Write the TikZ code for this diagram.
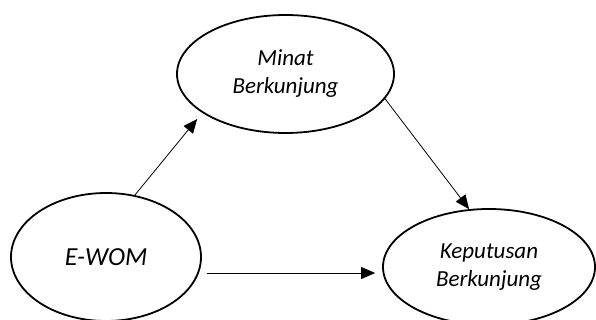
\documentclass[tikz,border=0pt]{standalone}
\usepackage{fontspec}
\setmainfont{Carlito}
\usetikzlibrary{shapes.geometric,arrows.meta}

\tikzstyle{vertex} = [ellipse,draw,line width=1.8pt,inner sep=0pt,align=center,font=\itshape\fontsize{23}{28}\selectfont]
\tikzstyle{edge} = [-{Triangle[length=14pt,width=12pt]},line width=.8pt]

\begin{document}
\begin{tikzpicture}[x=1pt,y=-1pt]
\useasboundingbox (0,0) rectangle (596,320);

% vertices
\node[vertex,minimum width=217pt,minimum height=118pt] (minat) at (285.5,74) {Minat\\Berkunjung};
\node[vertex,minimum width=190pt,minimum height=128pt,font=\itshape\fontsize{26}{30}\selectfont] (ewom) at (106,257) {E-WOM};
\node[vertex,minimum width=212pt,minimum height=116pt] (kep) at (489,267) {Keputusan\\Berkunjung};

% edges
\draw[edge,shorten >=8pt] (ewom.65) -- (minat.205);
\draw[edge] (minat.346) -- (kep.109);
\draw[edge] ([shift={(5pt,-16pt)}]ewom.east) -- ([shift={(-7pt,-6pt)}]kep.west);

\end{tikzpicture}
\end{document}
